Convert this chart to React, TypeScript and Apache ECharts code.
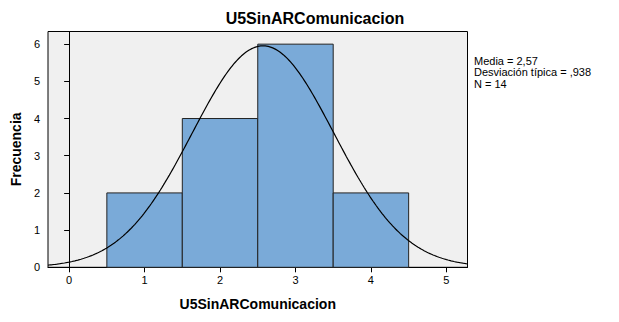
import React, { useEffect, useRef } from "react";
import * as echarts from "echarts";

const title = "U5SinARComunicacion";
const xName = "U5SinARComunicacion";
const yName = "Frecuencia";
const binStarts = [0.5, 1.5, 2.5, 3.5];
const binEnds = [1.5, 2.5, 3.5, 4.5];
const counts = [2, 4, 6, 2];
const xTicks = [0, 1, 2, 3, 4, 5];
const yTicks = [0, 1, 2, 3, 4, 5, 6];
const mean = 2.57;
const sd = 0.938;
const n = 14;
const binWidth = 1;
const statsLines = ["Media = 2,57", "Desviación típica = ,938", "N = 14"];

const X_MIN = -0.28;
const X_MAX = 5.28;
const Y_MAX = 6.34;

export default function App() {
  const ref = useRef<HTMLDivElement>(null);
  useEffect(() => {
    document.body.style.margin = "0";
    const chart = echarts.init(ref.current!, null, { renderer: "svg" });
    const curve: number[][] = [];
    const steps = 280;
    for (let i = 0; i <= steps; i++) {
      const x = X_MIN + ((X_MAX - X_MIN) * i) / steps;
      const y =
        (n * binWidth) / (sd * Math.sqrt(2 * Math.PI)) *
        Math.exp(-((x - mean) * (x - mean)) / (2 * sd * sd));
      curve.push([x, y]);
    }
    const bars = counts.map((c, i) => [binStarts[i], binEnds[i], c]);
    const font = "Arial, 'Liberation Sans', sans-serif";
    chart.setOption({
      animation: false,
      title: {
        text: title,
        left: 310,
        textAlign: "center",
        top: 5,
        textStyle: { fontFamily: font, fontSize: 16, fontWeight: "bold", color: "#000" },
      },
      grid: {
        left: 48,
        right: 151.5,
        top: 31.5,
        bottom: 54.7,
        show: true,
        backgroundColor: "#f0f0f0",
        borderColor: "#000",
        borderWidth: 1,
      },
      xAxis: {
        type: "value",
        min: X_MIN,
        max: X_MAX,
        name: xName,
        nameLocation: "middle",
        nameGap: 30,
        nameTextStyle: { fontFamily: font, fontSize: 14, fontWeight: "bold", color: "#000" },
        axisLine: { show: true, lineStyle: { color: "#000" } },
        axisTick: { show: true, inside: false, customValues: xTicks, length: 5, lineStyle: { color: "#000" } },
        axisLabel: { customValues: xTicks, fontFamily: font, fontSize: 11, color: "#000", margin: 7 },
        splitLine: { show: false },
      },
      yAxis: {
        type: "value",
        min: 0,
        max: Y_MAX,
        name: yName,
        nameLocation: "middle",
        nameGap: 25,
        nameRotate: 90,
        nameTextStyle: { fontFamily: font, fontSize: 14, fontWeight: "bold", color: "#000" },
        axisLine: { show: true, lineStyle: { color: "#000" } },
        axisTick: { show: true, inside: false, customValues: yTicks, length: 5, lineStyle: { color: "#000" } },
        axisLabel: { customValues: yTicks, fontFamily: font, fontSize: 11, color: "#000", margin: 8 },
        splitLine: { show: false },
      },
      series: [
        {
          type: "custom",
          data: bars,
          encode: { x: [0, 1], y: 2 },
          renderItem: (params: any, api: any) => {
            const p0 = api.coord([api.value(0), api.value(2)]);
            const p1 = api.coord([api.value(1), 0]);
            return {
              type: "rect",
              shape: { x: p0[0], y: p0[1], width: p1[0] - p0[0], height: p1[1] - p0[1] },
              style: { fill: "#7aaad8", stroke: "#222", lineWidth: 1 },
            };
          },
          z: 2,
        },
        {
          type: "line",
          data: curve,
          showSymbol: false,
          symbol: "none",
          smooth: false,
          lineStyle: { color: "#000", width: 1.2 },
          z: 3,
        },
      ],
      graphic: statsLines.map((t, i) => ({
        type: "text",
        left: 474,
        top: 55 + i * 11.5,
        style: { text: t, font: `11px ${font}`, fill: "#000" },
      })),
    });
    return () => chart.dispose();
  }, []);
  return <div ref={ref} style={{ width: 619, height: 322 }} />;
}
